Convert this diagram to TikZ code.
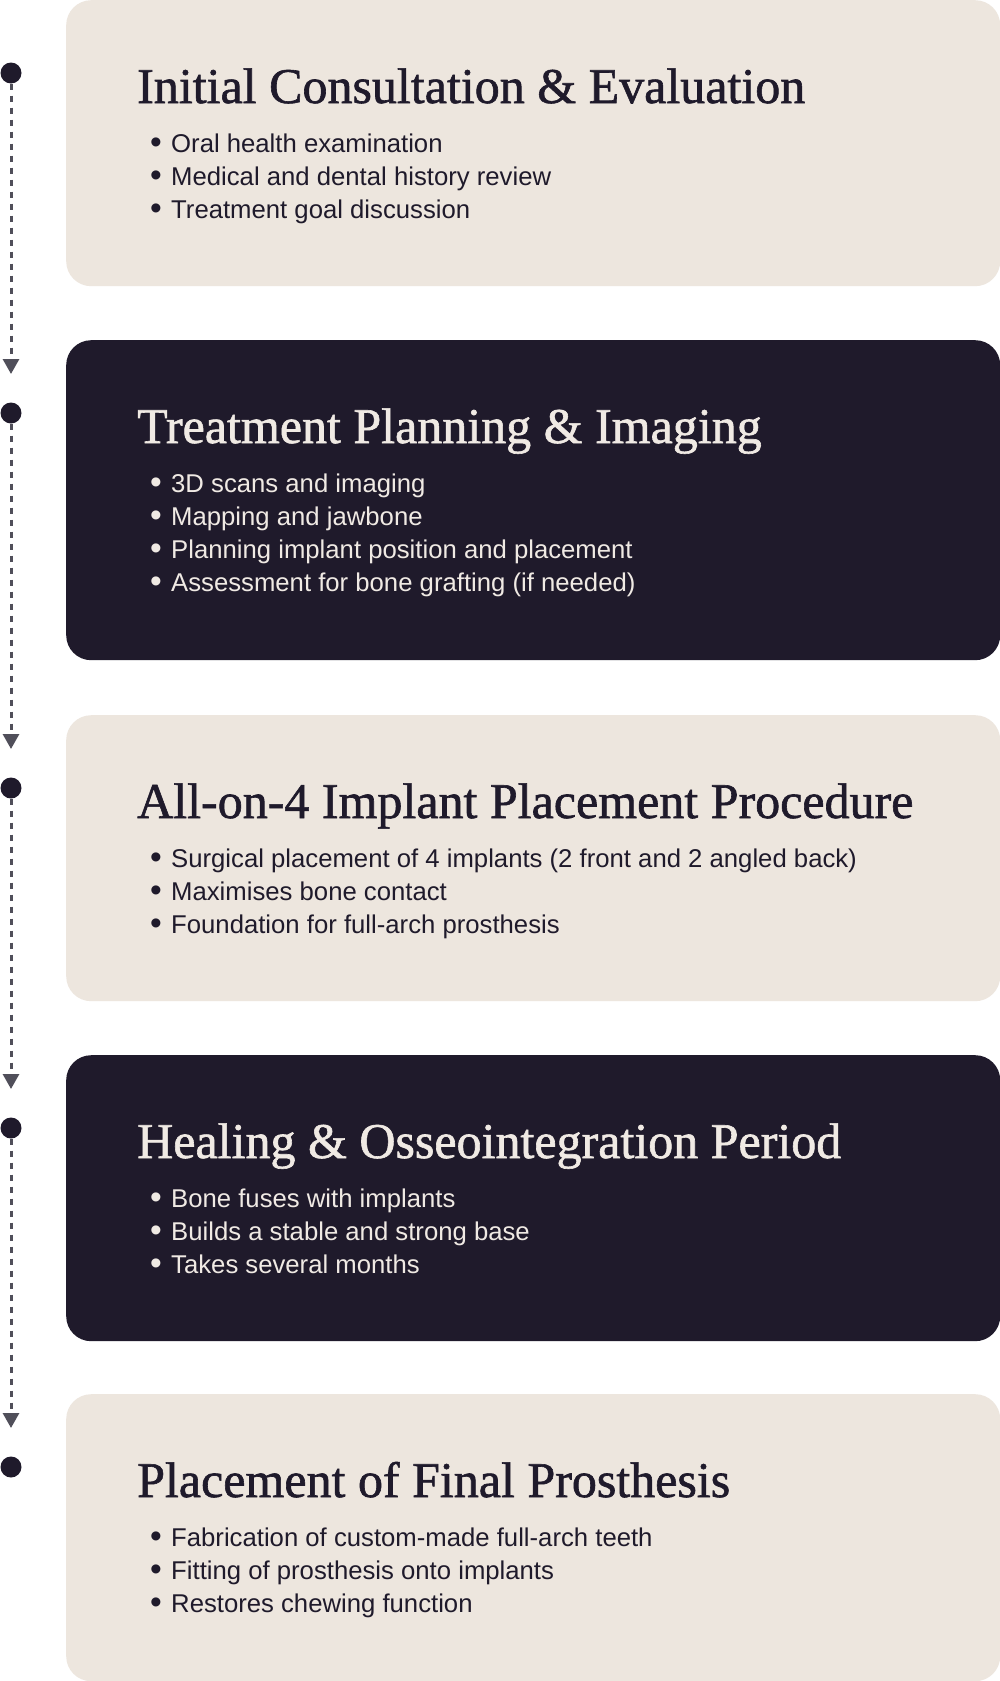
\documentclass[tikz,border=0pt]{standalone}
\usepackage{fontspec}
\setmainfont{Liberation Sans}
\newfontfamily\headfont[FakeBold=1.2]{Liberation Serif}
\usetikzlibrary{arrows.meta,positioning}
\definecolor{PaperClr}{RGB}{237,230,222}
\definecolor{InkClr}{RGB}{31,26,43}
\definecolor{ChalkClr}{RGB}{240,234,228}
\definecolor{DashClr}{RGB}{80,79,90}
\newcommand{\dotmark}{\makebox[21pt][l]{\raisebox{-1pt}{\scalebox{1.3}{•}}}}

\begin{document}
\begin{tikzpicture}[x=1pt,y=-1pt,
  lightbox/.style={fill=PaperClr,rounded corners=25pt,minimum width=934pt,inner sep=0pt,anchor=north west},
  darkbox/.style={lightbox,fill=InkClr},
  stepdot/.style={circle,fill=InkClr,minimum size=21pt,inner sep=0pt},
  flowline/.style={DashClr,line width=3pt,dash pattern=on 6pt off 6pt,-{Triangle[width=16pt,length=15pt]}},
  headtxt/.style={anchor=base west,inner sep=0pt,xshift=71pt,yshift=-103pt,font=\headfont\fontsize{50}{50}\selectfont},
  itemtxt/.style={anchor=base west,inner sep=0pt,xshift=84pt,font=\fontsize{25.7}{25.7}\selectfont}]
\useasboundingbox[fill=white] (0,0) rectangle (1000,1681);

\node[lightbox,minimum height=286pt] (consult) at (66,0) {};
\node[darkbox,minimum height=320pt] (planning) at (66,340) {};
\node[lightbox,minimum height=286pt] (placement) at (66,715) {};
\node[darkbox,minimum height=286pt] (healing) at (66,1055) {};
\node[lightbox,minimum height=287pt] (prosthesis) at (66,1394) {};

\node[stepdot] (dotA) at (11,73) {};
\node[stepdot] (dotB) at (11,413) {};
\node[stepdot] (dotC) at (11,788) {};
\node[stepdot] (dotD) at (11,1128) {};
\node[stepdot] (dotE) at (11,1467) {};

\coordinate (tipB) at (11,374);
\coordinate (tipC) at (11,749);
\coordinate (tipD) at (11,1089);
\coordinate (tipE) at (11,1428);

\draw[flowline] (dotA) -- (tipB);
\draw[flowline] (dotB) -- (tipC);
\draw[flowline] (dotC) -- (tipD);
\draw[flowline] (dotD) -- (tipE);

\node[headtxt,text=InkClr] (consultT) at (consult.north west) {Initial Consultation \& Evaluation};
\node[itemtxt,text=InkClr,yshift=-152pt] (consultA) at (consult.north west) {\dotmark Oral health examination};
\node[itemtxt,text=InkClr,yshift=-185pt] (consultB) at (consult.north west) {\dotmark Medical and dental history review};
\node[itemtxt,text=InkClr,yshift=-218pt] (consultC) at (consult.north west) {\dotmark Treatment goal discussion};

\node[headtxt,text=ChalkClr] (planningT) at (planning.north west) {Treatment Planning \& Imaging};
\node[itemtxt,text=ChalkClr,yshift=-152pt] (planningA) at (planning.north west) {\dotmark 3D scans and imaging};
\node[itemtxt,text=ChalkClr,yshift=-185pt] (planningB) at (planning.north west) {\dotmark Mapping and jawbone};
\node[itemtxt,text=ChalkClr,yshift=-218pt] (planningC) at (planning.north west) {\dotmark Planning implant position and placement};
\node[itemtxt,text=ChalkClr,yshift=-251pt] (planningD) at (planning.north west) {\dotmark Assessment for bone grafting (if needed)};

\node[headtxt,text=InkClr] (placementT) at (placement.north west) {All-on-4 Implant Placement Procedure};
\node[itemtxt,text=InkClr,yshift=-152pt] (placementA) at (placement.north west) {\dotmark Surgical placement of 4 implants (2 front and 2 angled back)};
\node[itemtxt,text=InkClr,yshift=-185pt] (placementB) at (placement.north west) {\dotmark Maximises bone contact};
\node[itemtxt,text=InkClr,yshift=-218pt] (placementC) at (placement.north west) {\dotmark Foundation for full-arch prosthesis};

\node[headtxt,text=ChalkClr] (healingT) at (healing.north west) {Healing \& Osseointegration Period};
\node[itemtxt,text=ChalkClr,yshift=-152pt] (healingA) at (healing.north west) {\dotmark Bone fuses with implants};
\node[itemtxt,text=ChalkClr,yshift=-185pt] (healingB) at (healing.north west) {\dotmark Builds a stable and strong base};
\node[itemtxt,text=ChalkClr,yshift=-218pt] (healingC) at (healing.north west) {\dotmark Takes several months};

\node[headtxt,text=InkClr] (prosthesisT) at (prosthesis.north west) {Placement of Final Prosthesis};
\node[itemtxt,text=InkClr,yshift=-152pt] (prosthesisA) at (prosthesis.north west) {\dotmark Fabrication of custom-made full-arch teeth};
\node[itemtxt,text=InkClr,yshift=-185pt] (prosthesisB) at (prosthesis.north west) {\dotmark Fitting of prosthesis onto implants};
\node[itemtxt,text=InkClr,yshift=-218pt] (prosthesisC) at (prosthesis.north west) {\dotmark Restores chewing function};

\end{tikzpicture}
\end{document}
